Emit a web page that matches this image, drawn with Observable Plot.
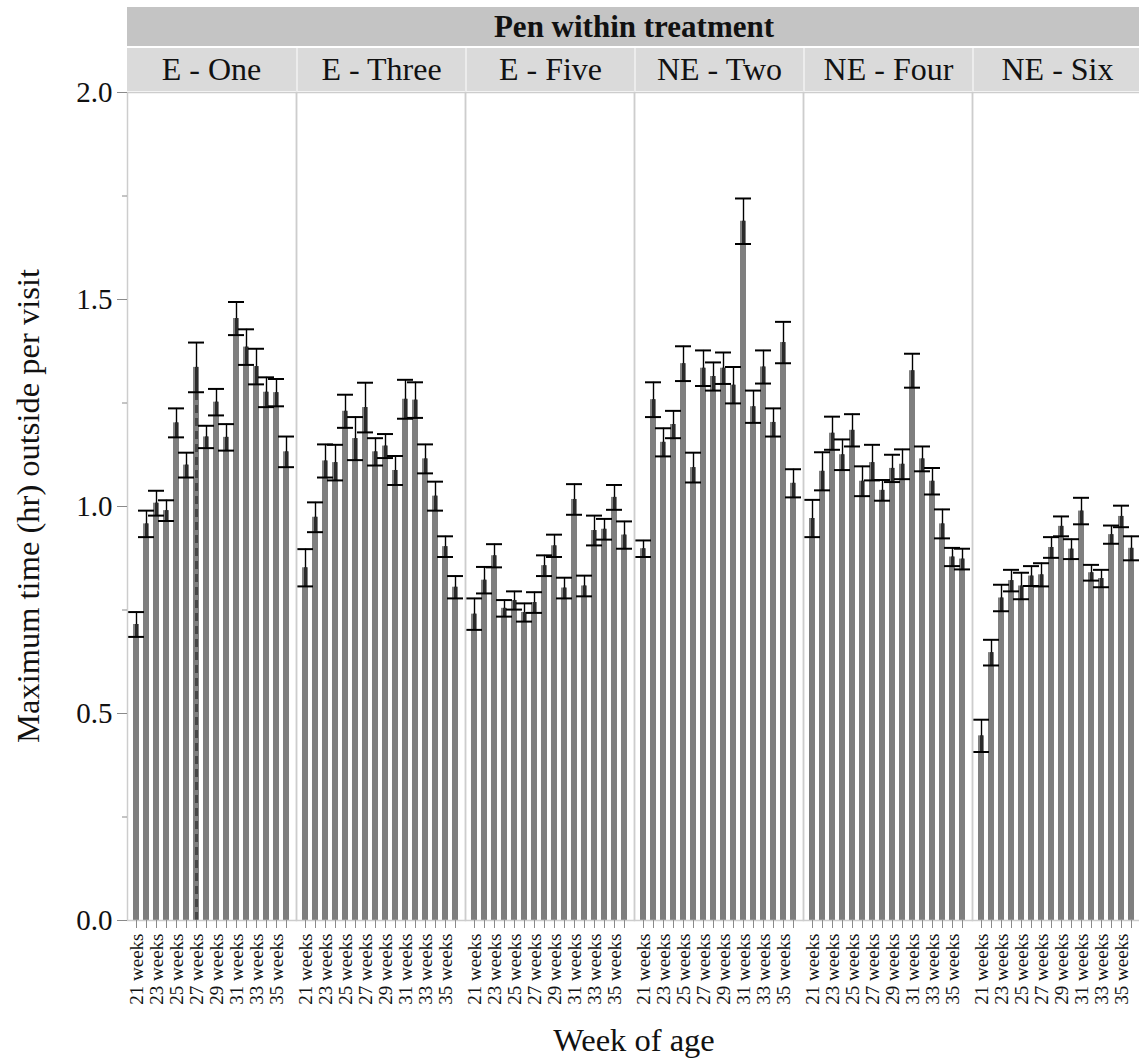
<!DOCTYPE html>
<html>
<head>
<meta charset="utf-8">
<script src="https://cdn.jsdelivr.net/npm/d3@7"></script>
<script src="https://cdn.jsdelivr.net/npm/@observablehq/plot@0.6"></script>
<style>
html, body { margin: 0; padding: 0; background: #fff; overflow: hidden; }
#wrap { position: relative; width: 1143px; height: 1064px; font-family: "Liberation Serif", "Tinos", "Times New Roman", Times, "DejaVu Serif", serif; color: #111; }
#wrap svg { position: absolute; left: 0; top: 0; }
.hdr { position: absolute; display: flex; align-items: center; justify-content: center; box-sizing: border-box; white-space: nowrap; }
.band { background: #c4c4c4; font-weight: bold; font-size: 31px; }
.cell { background: #dadada; font-size: 32px; border-left: 2px solid #ececec; }
.ytitle { position: absolute; font-size: 32.5px; white-space: nowrap; transform: translate(-50%, -50%) rotate(-90deg); }
.xtitle { position: absolute; font-size: 32.5px; white-space: nowrap; transform: translate(-50%, -50%); }
svg g[aria-label="y-axis tick label"] { font-size: 29px; }
svg g[aria-label="x-axis tick label"] { font-size: 19px; }
</style>
</head>
<body>
<div id="wrap"></div>
<script>
// ---- data ----
const pens = ["E - One", "E - Three", "E - Five", "NE - Two", "NE - Four", "NE - Six"];
const weekNumbers = [21, 22, 23, 24, 25, 26, 27, 28, 29, 30, 31, 32, 33, 34, 35, 36];
const weekLabels = weekNumbers.map(w => `${w} weeks`);
const labeledWeeks = ["21 weeks", "23 weeks", "25 weeks", "27 weeks", "29 weeks", "31 weeks", "33 weeks", "35 weeks"];

const meanEOne   = [0.715, 0.958, 1.008, 0.990, 1.202, 1.100, 1.336, 1.168, 1.252, 1.167, 1.454, 1.385, 1.338, 1.276, 1.275, 1.132];
const errEOne    = [0.030, 0.032, 0.030, 0.025, 0.035, 0.030, 0.060, 0.027, 0.032, 0.032, 0.040, 0.043, 0.043, 0.036, 0.033, 0.037];
const meanEThree = [0.852, 0.974, 1.110, 1.106, 1.230, 1.164, 1.239, 1.132, 1.146, 1.087, 1.259, 1.257, 1.115, 1.025, 0.903, 0.805];
const errEThree  = [0.045, 0.036, 0.040, 0.043, 0.040, 0.052, 0.060, 0.033, 0.029, 0.035, 0.047, 0.043, 0.035, 0.035, 0.025, 0.027];
const meanEFive  = [0.740, 0.822, 0.881, 0.754, 0.773, 0.744, 0.768, 0.857, 0.905, 0.803, 1.017, 0.808, 0.942, 0.945, 1.022, 0.931];
const errEFive   = [0.038, 0.032, 0.028, 0.020, 0.022, 0.022, 0.025, 0.025, 0.027, 0.025, 0.037, 0.025, 0.036, 0.025, 0.030, 0.033];
const meanNETwo  = [0.898, 1.258, 1.155, 1.198, 1.345, 1.094, 1.334, 1.314, 1.334, 1.293, 1.689, 1.241, 1.337, 1.203, 1.396, 1.056];
const errNETwo   = [0.020, 0.042, 0.034, 0.033, 0.042, 0.036, 0.043, 0.034, 0.038, 0.044, 0.055, 0.039, 0.040, 0.034, 0.050, 0.034];
const meanNEFour = [0.971, 1.085, 1.177, 1.125, 1.184, 1.061, 1.106, 1.039, 1.092, 1.102, 1.328, 1.115, 1.061, 0.958, 0.878, 0.873];
const errNEFour  = [0.045, 0.046, 0.040, 0.037, 0.039, 0.036, 0.043, 0.025, 0.033, 0.036, 0.041, 0.030, 0.032, 0.035, 0.022, 0.025];
const meanNESix  = [0.446, 0.647, 0.779, 0.821, 0.808, 0.832, 0.835, 0.901, 0.952, 0.897, 0.989, 0.840, 0.826, 0.932, 0.976, 0.899];
const errNESix   = [0.039, 0.031, 0.032, 0.026, 0.032, 0.024, 0.028, 0.025, 0.024, 0.024, 0.032, 0.019, 0.021, 0.022, 0.026, 0.029];

// highlighted (selected) bar in the original
const selectedBars = [["E - One", "27 weeks"]];

const yMajorTicks = [0, 0.5, 1.0, 1.5, 2.0];
const yMinorTicks = [0.25, 0.75, 1.25, 1.75];

const headerTitle = "Pen within treatment";
const yTitle = "Maximum time (hr) outside per visit";
const xTitle = "Week of age";

// ---- table ----
const meansByPen = [meanEOne, meanEThree, meanEFive, meanNETwo, meanNEFour, meanNESix];
const errsByPen = [errEOne, errEThree, errEFive, errNETwo, errNEFour, errNESix];
const rows = [];
pens.forEach((pen, i) => {
  weekLabels.forEach((week, j) => {
    const m = meansByPen[i][j], e = errsByPen[i][j];
    rows.push({pen, week, mean: m, lo: m - e, hi: m + e});
  });
});
const selRows = rows.filter(r => selectedBars.some(([p, w]) => p === r.pen && w === r.week));

// ---- layout ----
const W = 1143, H = 1064, ML = 125, MT = 92, MB = 144;
const FONT = "'Liberation Serif', 'Tinos', 'Times New Roman', Times, 'DejaVu Serif', serif";

const plot = Plot.plot({
  width: W, height: H,
  marginLeft: ML, marginRight: 0, marginTop: MT, marginBottom: MB,
  style: {fontFamily: FONT, fontSize: "19px", color: "#111", background: "white", overflow: "visible"},
  fx: {domain: pens, padding: 0, axis: null, label: null},
  x: {domain: weekLabels, paddingInner: 0.36, paddingOuter: 0.18, axis: null, label: null},
  y: {domain: [0, 2], axis: null, label: null},
  marks: [
    Plot.barY(rows, {fx: "pen", x: "week", y: "mean", fill: "#7f7f7f"}),
    Plot.ruleX(selRows, {fx: "pen", x: "week", y1: 0, y2: "mean", stroke: "#474747", strokeWidth: 3, strokeDasharray: "8,5"}),
    Plot.ruleX(rows, {fx: "pen", x: "week", y1: "lo", y2: "hi", stroke: "#000", strokeWidth: 1.4}),
    Plot.ruleX(rows, {fx: "pen", x: "week", y1: "lo", y2: "mean", stroke: "#2b2b2b", strokeWidth: 3}),
    Plot.tickY(rows, {fx: "pen", x: "week", y: "lo", stroke: "#000", strokeWidth: 2, insetLeft: -5, insetRight: -5}),
    Plot.tickY(rows, {fx: "pen", x: "week", y: "hi", stroke: "#000", strokeWidth: 2, insetLeft: -5, insetRight: -5}),
    Plot.frame({stroke: "#cdcdcd", strokeWidth: 1.5}),
    Plot.axisY({ticks: yMajorTicks, tickFormat: d3.format(".1f"), tickSize: 10, tickPadding: 5, stroke: "#8a8a8a", label: null, fontSize: 29}),
    Plot.axisY({ticks: yMinorTicks, tickFormat: () => "", tickSize: 5, stroke: "#8a8a8a", label: null}),
    Plot.axisX({ticks: weekLabels, tickFormat: d => labeledWeeks.includes(d) ? d : "", tickRotate: -90, tickSize: 8, tickPadding: 5, stroke: "#8a8a8a", label: null, fontSize: 19})
  ]
});

const wrap = document.getElementById("wrap");
wrap.appendChild(plot);

// ---- headers (positions from the fx scale) ----
const fx = plot.scale("fx");
const first = fx.apply(pens[0]);
const last = fx.apply(pens[pens.length - 1]) + fx.bandwidth;

const band = document.createElement("div");
band.className = "hdr band";
Object.assign(band.style, {left: first + "px", width: (last - first) + "px", top: "7px", height: "39px"});
band.textContent = headerTitle;
wrap.appendChild(band);

pens.forEach((p, i) => {
  const c = document.createElement("div");
  c.className = "hdr cell";
  Object.assign(c.style, {left: fx.apply(p) + "px", width: fx.bandwidth + "px", top: "48px", height: "43px"});
  if (i === 0) c.style.borderLeft = "none";
  c.textContent = p;
  wrap.appendChild(c);
});

const yScale = plot.scale("y");
const yt = document.createElement("div");
yt.className = "ytitle";
yt.textContent = yTitle;
Object.assign(yt.style, {left: "28px", top: ((yScale.apply(0) + yScale.apply(2)) / 2) + "px"});
wrap.appendChild(yt);

const xt = document.createElement("div");
xt.className = "xtitle";
xt.textContent = xTitle;
Object.assign(xt.style, {left: ((first + last) / 2) + "px", top: "1040px"});
wrap.appendChild(xt);
</script>
</body>
</html>
